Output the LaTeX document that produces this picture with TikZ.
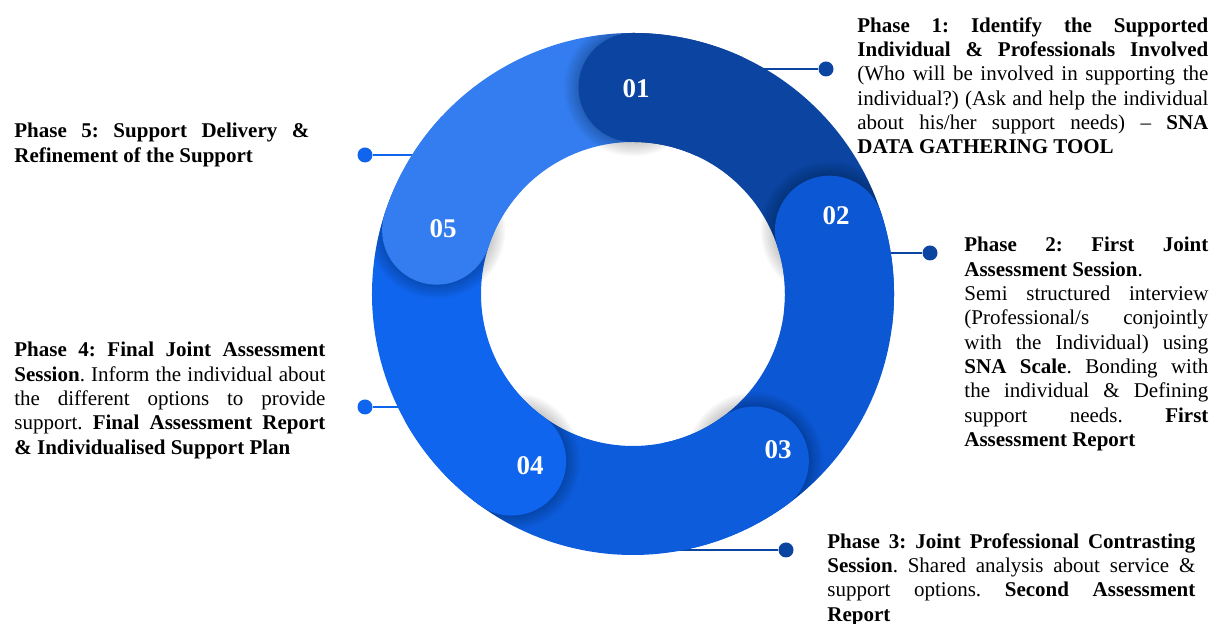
\documentclass[tikz,border=0pt]{standalone}
\usepackage{fontspec}
\setmainfont{Liberation Serif}
\usetikzlibrary{positioning}
\definecolor{fase1}{RGB}{11,69,161}
\definecolor{fase2}{RGB}{12,87,212}
\definecolor{fase3}{RGB}{13,92,220}
\definecolor{fase4}{RGB}{16,101,238}
\definecolor{fase5}{RGB}{51,125,240}
\tolerance=10000
\hyphenpenalty=10000
\hbadness=10000
\frenchspacing
\begin{document}
\begin{tikzpicture}[x=0.5pt,y=0.5pt,
    texto/.style={anchor=north west, inner sep=0pt, align=justify,
      font=\fontsize{10.5}{12.15}\selectfont},
    numero/.style={inner sep=0pt, text=white,
      font=\fontsize{13.5}{16}\selectfont\bfseries},
    punto/.style={circle, fill=#1, inner sep=0pt, minimum size=7.5pt},
    enlace/.style={line width=1pt, draw=#1}]
    \useasboundingbox (0,0) rectangle (1219,624);

    % Coordenadas de las líneas sobre el anillo
    \coordinate (r1) at (720,555);
    \coordinate (r2) at (840,371);
    \coordinate (r3) at (640,74);
    \coordinate (r4) at (430,217);
    \coordinate (r5) at (440,469);

    % Puntos de las fases
    \node[punto=fase1] (dot1) at (826,555) {};
    \node[punto=fase1] (dot2) at (930,371) {};
    \node[punto=fase1] (dot3) at (786,74) {};
    \node[punto=fase4] (dot4) at (365,217) {};
    \node[punto=fase4] (dot5) at (365,469) {};

    % Líneas (detrás del anillo)
    \draw[enlace=fase1] (r1) -- (dot1);
    \draw[enlace=fase1] (r2) -- (dot2);
    \draw[enlace=fase1] (r3) -- (dot3);
    \draw[enlace=fase4] (r4) -- (dot4);
    \draw[enlace=fase4] (r5) -- (dot5);

    \begin{scope}[shift={(633,330)}]
      % Sectores del anillo
      \foreach \i/\col in {1/fase1,2/fase2,3/fase3,4/fase4,5/fase5}{
        \pgfmathsetmacro\ini{162-72*\i}
        \pgfmathsetmacro\fin{\ini-72}
        \fill[\col] (\ini:261) arc[start angle=\ini, end angle=\fin, radius=261]
          -- (\fin:152) arc[start angle=\fin, end angle=\ini, radius=152] -- cycle;
      }
      % Sombras de los extremos redondos
      \begin{scope}
        \clip (0,0) circle (261);
        \foreach \i in {1,...,5}{
          \pgfmathsetmacro\ini{162-72*\i}
          \foreach \k in {1,...,7}
            \fill[black, opacity=0.03] (\ini:206.5) circle (54.5+\k*2);
        }
      \end{scope}
      % Tramo propio sin sombra, luego extremos redondos
      \foreach \i/\col in {1/fase1,2/fase2,3/fase3,4/fase4,5/fase5}{
        \pgfmathsetmacro\ini{162-72*\i}
        \pgfmathsetmacro\fin{\ini-25}
        \fill[\col] (\ini:261) arc[start angle=\ini, end angle=\fin, radius=261]
          -- (\fin:152) arc[start angle=\fin, end angle=\ini, radius=152] -- cycle;
        \fill[\col] (\ini:206.5) circle (54.5);
      }
    \end{scope}

    % Números
    \node[numero] (n1) at (636,535) {01};
    \node[numero] (n2) at (836,408) {02};
    \node[numero] (n3) at (778,174) {03};
    \node[numero] (n4) at (530,158) {04};
    \node[numero] (n5) at (443,395) {05};

    % Textos de las fases
    \node[texto, text width=175.5pt] (txt1) at (857,607)
      {\textbf{Phase 1: Identify the Supported}\linebreak
       \textbf{Individual \& Professionals Involved}\linebreak
       (Who will be involved in supporting the\linebreak
       individual?) (Ask and help the individual\linebreak
       about his/her support needs) -- \textbf{SNA}\linebreak
       \textbf{DATA GATHERING TOOL}};
    \node[texto, text width=122pt] (txt2) at (964,387)
      {\textbf{Phase 2: First Joint}\linebreak
       \textbf{Assessment Session}.\newline
       Semi structured interview\linebreak
       (Professional/s conjointly\linebreak
       with the Individual) using\linebreak
       \textbf{SNA Scale}. Bonding with\linebreak
       the individual \& Defining\linebreak
       support needs. \textbf{First}\linebreak
       \textbf{Assessment Report}};
    \node[texto, text width=184pt] (txt3) at (827,91)
      {\textbf{Phase 3: Joint Professional Contrasting}\linebreak
       \textbf{Session}. Shared analysis about service \&\linebreak
       support options. \textbf{Second Assessment}\linebreak
       \textbf{Report}};
    \node[texto, text width=155.5pt] (txt4) at (14,282)
      {\textbf{Phase 4: Final Joint Assessment}\linebreak
       \textbf{Session}. Inform the individual about\linebreak
       the different options to provide\linebreak
       support. \textbf{Final Assessment Report}\linebreak
       \textbf{\& Individualised Support Plan}};
    \node[texto, text width=147.5pt] (txt5) at (14,501)
      {\textbf{Phase 5: Support Delivery \&}\linebreak
       \textbf{Refinement of the Support}};

\end{tikzpicture}
\end{document}
